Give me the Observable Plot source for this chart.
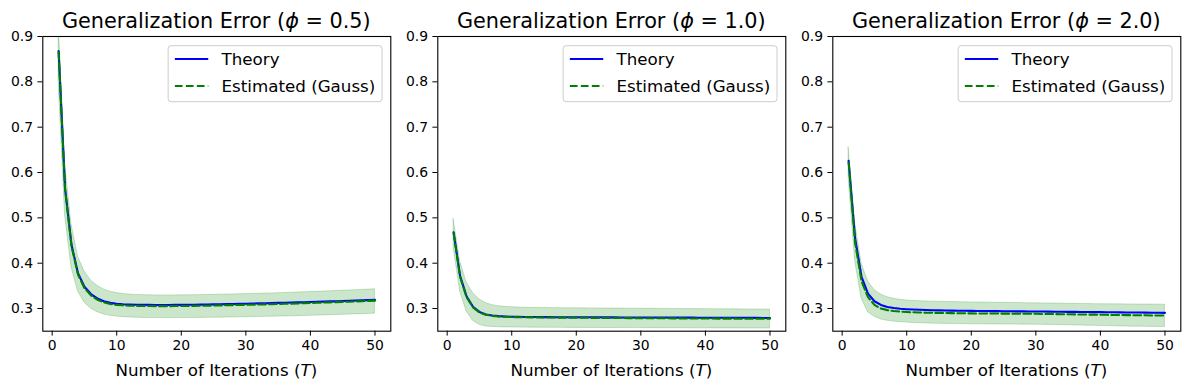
<!DOCTYPE html>
<html><head><meta charset="utf-8">
<script src="https://cdn.jsdelivr.net/npm/d3@7"></script>
<script src="https://cdn.jsdelivr.net/npm/@observablehq/plot@0.6"></script>
<style>
body{margin:0;background:#fff;}
#row{display:flex;width:1189px;height:390px;}
#row svg{font-family:"DejaVu Sans",sans-serif;display:block;}
</style></head><body><div id="row"></div>
<script>
const T = [1,2,3,4,5,6,7,8,9,10,11,12,13,14,15,16,17,18,19,20,21,22,23,24,25,26,27,28,29,30,31,32,33,34,35,36,37,38,39,40,41,42,43,44,45,46,47,48,49,50];
const xTicks = [0,10,20,30,40,50];
const yTicks = [0.3,0.4,0.5,0.6,0.7,0.8,0.9];
const phiLabels = ["0.5","1.0","2.0"];
const seriesNames = ["Theory","Estimated (Gauss)"];

// phi = 0.5
const theory05 = [0.868,0.565,0.440,0.378,0.348,0.332,0.3225,0.316,0.3125,0.3105,
 0.3095,0.3089,0.3085,0.3082,0.3080,0.3079,0.3079,0.3079,0.3080,0.3081,
 0.3083,0.3085,0.3087,0.3089,0.3091,0.3094,0.3097,0.3100,0.3103,0.3106,
 0.3109,0.3113,0.3116,0.3120,0.3124,0.3128,0.3132,0.3136,0.3140,0.3144,
 0.3148,0.3152,0.3157,0.3161,0.3166,0.3171,0.3176,0.3181,0.3186,0.3192];
const est05 = [0.866,0.562,0.437,0.375,0.345,0.329,0.3195,0.3135,0.3100,0.3080,
 0.3070,0.3063,0.3059,0.3056,0.3054,0.3053,0.3053,0.3053,0.3054,0.3055,
 0.3057,0.3059,0.3061,0.3063,0.3066,0.3069,0.3072,0.3075,0.3078,0.3081,
 0.3085,0.3088,0.3092,0.3096,0.3100,0.3104,0.3108,0.3112,0.3117,0.3121,
 0.3126,0.3131,0.3136,0.3141,0.3146,0.3151,0.3157,0.3162,0.3168,0.3175];
const hi05 = [0.935,0.620,0.485,0.415,0.382,0.362,0.350,0.342,0.337,0.334,
 0.332,0.3308,0.3300,0.3295,0.3292,0.3290,0.3289,0.3289,0.3290,0.3291,
 0.3293,0.3295,0.3297,0.3300,0.3303,0.3306,0.3309,0.3312,0.3315,0.3318,
 0.3322,0.3326,0.3330,0.3334,0.3338,0.3343,0.3348,0.3353,0.3358,0.3363,
 0.3369,0.3375,0.3381,0.3387,0.3393,0.3399,0.3405,0.3411,0.3418,0.3425];
const lo05 = [0.800,0.505,0.390,0.338,0.313,0.300,0.292,0.287,0.284,0.2822,
 0.2810,0.2802,0.2797,0.2793,0.2791,0.2790,0.2789,0.2789,0.2789,0.2790,
 0.2791,0.2792,0.2793,0.2795,0.2797,0.2799,0.2801,0.2803,0.2805,0.2808,
 0.2811,0.2813,0.2816,0.2819,0.2822,0.2825,0.2829,0.2832,0.2836,0.2840,
 0.2844,0.2848,0.2852,0.2857,0.2861,0.2866,0.2871,0.2876,0.2881,0.2887];

// phi = 1.0
const theory10 = [0.468,0.372,0.327,0.304,0.2925,0.2870,0.2845,0.2832,0.2824,0.2819,
 0.2816,0.2814,0.2813,0.2812,0.2811,0.2810,0.2809,0.2809,0.2808,0.2808,
 0.2807,0.2807,0.2806,0.2806,0.2805,0.2805,0.2804,0.2804,0.2803,0.2803,
 0.2802,0.2802,0.2801,0.2801,0.2800,0.2800,0.2799,0.2799,0.2798,0.2798,
 0.2797,0.2797,0.2796,0.2796,0.2795,0.2795,0.2794,0.2794,0.2793,0.2793];
const est10 = [0.466,0.370,0.325,0.3025,0.2915,0.2862,0.2838,0.2825,0.2817,0.2812,
 0.2809,0.2807,0.2805,0.2804,0.2802,0.2801,0.2800,0.2799,0.2798,0.2797,
 0.2796,0.2795,0.2794,0.2793,0.2792,0.2791,0.2790,0.2789,0.2788,0.2787,
 0.2787,0.2786,0.2785,0.2784,0.2783,0.2783,0.2782,0.2781,0.2780,0.2780,
 0.2779,0.2778,0.2777,0.2777,0.2776,0.2775,0.2775,0.2774,0.2773,0.2773];
const hi10 = [0.497,0.405,0.358,0.334,0.320,0.312,0.3075,0.3050,0.3037,0.3028,
 0.3022,0.3018,0.3015,0.3013,0.3011,0.3009,0.3008,0.3007,0.3006,0.3005,
 0.3004,0.3003,0.3002,0.3001,0.3000,0.2999,0.2998,0.2997,0.2996,0.2995,
 0.2994,0.2993,0.2992,0.2991,0.2990,0.2989,0.2988,0.2988,0.2987,0.2986,
 0.2985,0.2984,0.2983,0.2983,0.2982,0.2981,0.2980,0.2980,0.2979,0.2978];
const lo10 = [0.435,0.338,0.294,0.273,0.264,0.2605,0.2593,0.2587,0.2584,0.2582,
 0.2580,0.2579,0.2578,0.2577,0.2576,0.2575,0.2575,0.2574,0.2573,0.2573,
 0.2572,0.2572,0.2571,0.2571,0.2570,0.2570,0.2569,0.2569,0.2568,0.2568,
 0.2567,0.2567,0.2566,0.2566,0.2565,0.2565,0.2564,0.2564,0.2563,0.2563,
 0.2562,0.2562,0.2561,0.2561,0.2560,0.2560,0.2559,0.2559,0.2558,0.2558];

// phi = 2.0
const theory20 = [0.626,0.455,0.370,0.333,0.316,0.308,0.3035,0.3010,0.2995,0.2985,
 0.2978,0.2972,0.2967,0.2963,0.2960,0.2957,0.2954,0.2952,0.2950,0.2948,
 0.2946,0.2945,0.2943,0.2942,0.2941,0.2940,0.2938,0.2937,0.2936,0.2935,
 0.2933,0.2932,0.2930,0.2929,0.2927,0.2926,0.2924,0.2923,0.2921,0.2920,
 0.2918,0.2917,0.2915,0.2914,0.2912,0.2911,0.2909,0.2908,0.2906,0.2905];
const est20 = [0.622,0.445,0.360,0.325,0.308,0.3000,0.2965,0.2945,0.2932,0.2923,
 0.2917,0.2912,0.2908,0.2905,0.2902,0.2900,0.2898,0.2896,0.2895,0.2893,
 0.2892,0.2891,0.2890,0.2889,0.2888,0.2887,0.2886,0.2885,0.2884,0.2883,
 0.2881,0.2879,0.2877,0.2875,0.2873,0.2871,0.2869,0.2867,0.2865,0.2863,
 0.2861,0.2859,0.2857,0.2855,0.2853,0.2852,0.2850,0.2848,0.2846,0.2845];
const hi20 = [0.655,0.490,0.400,0.360,0.341,0.331,0.325,0.3215,0.3193,0.3178,
 0.3168,0.3161,0.3156,0.3152,0.3149,0.3146,0.3143,0.3140,0.3137,0.3135,
 0.3133,0.3131,0.3129,0.3127,0.3125,0.3123,0.3121,0.3119,0.3117,0.3115,
 0.3113,0.3111,0.3109,0.3107,0.3105,0.3103,0.3101,0.3099,0.3097,0.3095,
 0.3094,0.3093,0.3092,0.3091,0.3090,0.3089,0.3088,0.3087,0.3086,0.3085];
const lo20 = [0.590,0.405,0.322,0.292,0.282,0.276,0.2730,0.2712,0.2700,0.2690,
 0.2682,0.2676,0.2671,0.2667,0.2664,0.2661,0.2659,0.2657,0.2655,0.2653,
 0.2652,0.2651,0.2650,0.2649,0.2648,0.2647,0.2646,0.2645,0.2644,0.2643,
 0.2641,0.2639,0.2636,0.2633,0.2630,0.2627,0.2624,0.2621,0.2618,0.2615,
 0.2612,0.2609,0.2606,0.2603,0.2600,0.2598,0.2596,0.2595,0.2594,0.2593];

const panels = [
  {phi: phiLabels[0], theory: theory05, est: est05, lo: lo05, hi: hi05},
  {phi: phiLabels[1], theory: theory10, est: est10, lo: lo10, hi: hi10},
  {phi: phiLabels[2], theory: theory20, est: est20, lo: lo20, hi: hi20}
];

const W = 395, H = 390, ML = 42.3, MR = 4.7, MT = 36, MB = 59.3;
const BLUE = "#0000ff", GREEN = "#008000";
const row = document.getElementById("row");

panels.forEach(p => {
  const data = T.map((t, i) => ({T: t, theory: p.theory[i], est: p.est[i], lo: p.lo[i], hi: p.hi[i]}));
  const chart = Plot.plot({
    width: W, height: H,
    marginLeft: ML, marginRight: MR, marginTop: MT, marginBottom: MB,
    style: {fontFamily: "DejaVu Sans, sans-serif", fontSize: "13.9px", color: "#000", background: "#fff", overflow: "visible"},
    x: {domain: [-1.45, 52.45], ticks: xTicks, tickFormat: d => String(d), tickSize: 4.9, tickPadding: 4.2, label: null},
    y: {domain: [0.25, 0.9], ticks: yTicks, tickFormat: d3.format(".1f"), tickSize: 4.9, tickPadding: 4.9, label: null},
    marks: [
      Plot.areaY(data, {x: "T", y1: "lo", y2: "hi", fill: GREEN, fillOpacity: 0.2, stroke: GREEN, strokeOpacity: 0.2, strokeWidth: 1, clip: true}),
      Plot.lineY(data, {x: "T", y: "theory", stroke: BLUE, strokeWidth: 2.08, clip: true}),
      Plot.lineY(data, {x: "T", y: "est", stroke: GREEN, strokeWidth: 2.08, strokeDasharray: "7.7,3.3", clip: true}),
      Plot.frame({stroke: "#000", strokeWidth: 1.1})
    ]
  });
  row.appendChild(chart);
  const svg = d3.select(chart);
  const cx = ML + (W - ML - MR) / 2;

  // title
  const title = svg.append("text").attr("x", cx).attr("y", 28).attr("text-anchor", "middle")
    .attr("font-size", "20.8px").attr("fill", "#000");
  title.append("tspan").text("Generalization Error (");
  title.append("tspan").attr("font-style", "italic").text("ϕ");
  title.append("tspan").text(" = " + p.phi + ")");

  // x label
  const xl = svg.append("text").attr("x", cx).attr("y", 376).attr("text-anchor", "middle")
    .attr("font-size", "16.7px").attr("fill", "#000");
  xl.append("tspan").text("Number of Iterations (");
  xl.append("tspan").attr("font-style", "italic").text("T");
  xl.append("tspan").text(")");

  // legend
  const fs = 16.7;
  const g = svg.append("g").attr("text-anchor", "start");
  const box = g.append("rect");
  const texts = seriesNames.map((s, i) => g.append("text").attr("font-size", fs + "px").attr("fill", "#000")
    .attr("text-anchor", "start").attr("dy", "0.36em").text(s));
  const tw = Math.max(...texts.map(t => t.node().getComputedTextLength()));
  const pad = 6.7, handle = 33.4, gap = 13.3;
  const bw = pad + handle + gap + tw + pad;
  const right = W - MR - 8.3, top = 45.7, bh = 56;
  const left = right - bw;
  box.attr("x", left).attr("y", top).attr("width", bw).attr("height", bh).attr("rx", 3)
    .attr("fill", "#fff").attr("fill-opacity", 0.8).attr("stroke", "#cccccc").attr("stroke-width", 1);
  const rowsY = [top + 13.3, top + 40.3];
  g.append("line").attr("x1", left + pad).attr("x2", left + pad + handle).attr("y1", rowsY[0]).attr("y2", rowsY[0])
    .attr("stroke", BLUE).attr("stroke-width", 2.08);
  g.append("line").attr("x1", left + pad).attr("x2", left + pad + handle).attr("y1", rowsY[1]).attr("y2", rowsY[1])
    .attr("stroke", GREEN).attr("stroke-width", 2.08).attr("stroke-dasharray", "7.7,3.3");
  texts.forEach((t, i) => t.attr("x", left + pad + handle + gap).attr("y", rowsY[i]));
});
</script></body></html>
